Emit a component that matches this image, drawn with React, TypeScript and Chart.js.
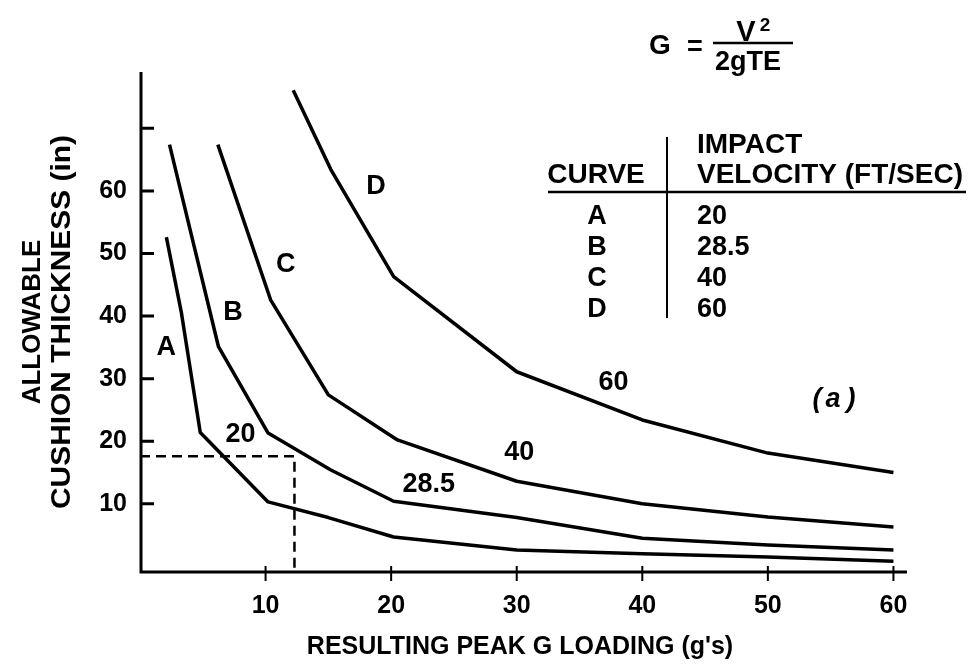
import React, { useEffect, useRef } from 'react';
import { Chart, registerables } from 'chart.js';

Chart.register(...registerables);

// ---- data ----
const CURVE_A_X = [2.1, 3.3, 4.8, 10.2, 15.0, 20.2, 30, 40, 50, 60];
const CURVE_A_Y = [52.6, 40.5, 21.4, 10.3, 7.8, 4.7, 2.6, 2.0, 1.5, 0.8];
const CURVE_B_X = [2.35, 6.25, 10.2, 15.2, 20.2, 30, 40, 50, 60];
const CURVE_B_Y = [67.4, 35.1, 21.3, 15.4, 10.4, 7.8, 4.5, 3.4, 2.6];
const CURVE_C_X = [6.2, 10.4, 15.0, 20.5, 30, 40, 50, 60];
const CURVE_C_Y = [67.4, 42.6, 27.4, 20.2, 13.6, 10.0, 7.9, 6.3];
const CURVE_D_X = [12.2, 15.2, 20.2, 30, 40, 50, 60];
const CURVE_D_Y = [76.1, 63.4, 46.3, 31.1, 23.4, 18.1, 15.0];
const EXAMPLE_X = [0, 12.3, 12.3];
const EXAMPLE_Y = [17.6, 17.6, -0.9];

const X_TICKS = [10, 20, 30, 40, 50, 60];
const Y_TICKS = [10, 20, 30, 40, 50, 60, 70];
const Y_TICK_LABELS = ['10', '20', '30', '40', '50', '60', ''];

const CURVE_NAMES = ['A', 'B', 'C', 'D'];
const VELOCITIES = ['20', '28.5', '40', '60'];
const NAME_LABEL_X = [2.1, 7.4, 11.6, 18.8];
const NAME_LABEL_Y = [35.3, 40.9, 48.6, 61.0];
const VEL_LABEL_X = [8.0, 23.0, 30.2, 37.7];
const VEL_LABEL_Y = [21.4, 13.5, 18.6, 29.8];

const X_TITLE = "RESULTING PEAK G LOADING (g's)";
const Y_TITLE = ['ALLOWABLE', 'CUSHION THICKNESS (in)'];

const FONT = '"Liberation Sans", Arial, sans-serif';

const pts = (xs: number[], ys: number[]) => xs.map((x, i) => ({ x, y: ys[i] }));

function txt(ctx: CanvasRenderingContext2D, s: string, cx: number, cy: number, size: number, align: CanvasTextAlign = 'center', style = 'bold') {
  ctx.font = `${style} ${size}px ${FONT}`;
  ctx.textAlign = align;
  ctx.textBaseline = 'alphabetic';
  ctx.fillText(s, cx, cy + size * 0.36);
}

function fitTxt(ctx: CanvasRenderingContext2D, s: string, cx: number, cy: number, size: number, width: number) {
  ctx.font = `bold ${size}px ${FONT}`;
  const w = ctx.measureText(s).width;
  ctx.save();
  ctx.translate(cx, cy);
  ctx.scale(width / w, 1);
  ctx.textAlign = 'center';
  ctx.textBaseline = 'alphabetic';
  ctx.fillText(s, 0, size * 0.36);
  ctx.restore();
}

const decorPlugin = {
  id: 'decor',
  afterDraw(chart: any) {
    const ctx: CanvasRenderingContext2D = chart.ctx;
    const xs = chart.scales.x;
    const ys = chart.scales.y;
    const area = chart.chartArea;
    ctx.save();
    ctx.strokeStyle = '#000';
    ctx.fillStyle = '#000';
    ctx.lineCap = 'butt';

    // axes
    ctx.lineWidth = 3;
    ctx.beginPath();
    ctx.moveTo(area.left + 1, area.top);
    ctx.lineTo(area.left + 1, area.bottom + 1.5);
    ctx.moveTo(area.left, area.bottom);
    ctx.lineTo(area.right + 1, area.bottom);
    ctx.stroke();

    // y tick marks (inward)
    ctx.beginPath();
    Y_TICKS.forEach((v) => {
      const py = ys.getPixelForValue(v);
      ctx.moveTo(area.left + 1, py);
      ctx.lineTo(area.left + 14, py);
    });
    ctx.stroke();

    // x tick marks (crossing)
    ctx.lineWidth = 2;
    ctx.beginPath();
    X_TICKS.forEach((v) => {
      const px = xs.getPixelForValue(v);
      ctx.moveTo(px, area.bottom - 6);
      ctx.lineTo(px, area.bottom + 9);
    });
    ctx.stroke();

    // curve labels
    CURVE_NAMES.forEach((n, i) => {
      txt(ctx, n, xs.getPixelForValue(NAME_LABEL_X[i]), ys.getPixelForValue(NAME_LABEL_Y[i]), 27);
    });
    VELOCITIES.forEach((n, i) => {
      txt(ctx, n, xs.getPixelForValue(VEL_LABEL_X[i]), ys.getPixelForValue(VEL_LABEL_Y[i]), 27);
    });

    // (a)
    txt(ctx, '(', 817, 397, 27, 'center', 'italic bold');
    txt(ctx, 'a', 833, 397, 27, 'center', 'italic bold');
    txt(ctx, ')', 851, 397, 27, 'center', 'italic bold');

    // axis titles
    txt(ctx, X_TITLE, 520, 645, 25);
    ctx.save();
    ctx.translate(31, 322);
    ctx.rotate(-Math.PI / 2);
    txt(ctx, Y_TITLE[0], 0, 0, 26);
    ctx.restore();
    ctx.save();
    ctx.translate(60, 322);
    ctx.rotate(-Math.PI / 2);
    fitTxt(ctx, Y_TITLE[1], 0, 0, 27, 374);
    ctx.restore();

    // formula
    txt(ctx, 'G', 660, 44, 28);
    txt(ctx, '=', 695, 45, 27);
    txt(ctx, 'V', 746, 31, 29);
    txt(ctx, '2', 765, 24, 19);
    ctx.lineWidth = 2.5;
    ctx.beginPath();
    ctx.moveTo(713, 43);
    ctx.lineTo(793, 43);
    ctx.stroke();
    txt(ctx, '2gTE', 748, 60, 27);

    // legend table
    txt(ctx, 'IMPACT', 697, 143, 28, 'left');
    txt(ctx, 'CURVE', 596, 173, 28, 'center');
    txt(ctx, 'VELOCITY (FT/SEC)', 697, 173, 28, 'left');
    ctx.lineWidth = 2.5;
    ctx.beginPath();
    ctx.moveTo(548, 192);
    ctx.lineTo(966, 192);
    ctx.stroke();
    ctx.lineWidth = 2;
    ctx.beginPath();
    ctx.moveTo(667, 137);
    ctx.lineTo(667, 318);
    ctx.stroke();
    const rowY = [214, 245, 276, 307];
    CURVE_NAMES.forEach((n, i) => {
      txt(ctx, n, 597, rowY[i], 27, 'center');
      txt(ctx, VELOCITIES[i], 697, rowY[i], 27, 'left');
    });

    ctx.restore();
  },
};

export default function App() {
  const ref = useRef<HTMLCanvasElement>(null);
  useEffect(() => {
    if (!ref.current) return;
    const line = (xs: number[], ys: number[], dash: number[] = [], w = 3.5) => ({
      type: 'line' as const,
      data: pts(xs, ys),
      borderColor: '#000',
      borderWidth: w,
      borderDash: dash,
      borderJoinStyle: 'round',
      pointRadius: 0,
      tension: 0,
      fill: false,
    });
    const chart = new Chart(ref.current, {
      type: 'line',
      data: {
        datasets: [
          line(CURVE_A_X, CURVE_A_Y),
          line(CURVE_B_X, CURVE_B_Y),
          line(CURVE_C_X, CURVE_C_Y),
          line(CURVE_D_X, CURVE_D_Y),
          line(EXAMPLE_X, EXAMPLE_Y, [10, 6], 2.5),
        ] as any,
      },
      options: {
        responsive: false,
        animation: false,
        devicePixelRatio: 1,
        layout: { padding: { top: 72, right: 68, left: 0, bottom: 0 } },
        plugins: { legend: { display: false }, tooltip: { enabled: false }, title: { display: false } },
        scales: {
          x: {
            type: 'linear',
            min: 0,
            max: 61,
            grid: { display: false, drawTicks: false },
            border: { display: false },
            afterBuildTicks: (s: any) => {
              s.ticks = X_TICKS.map((v) => ({ value: v }));
            },
            afterFit: (s: any) => {
              s.height = 99;
            },
            ticks: {
              color: '#000',
              font: { family: FONT, size: 25, weight: 'bold' },
              padding: 19,
              maxRotation: 0,
              autoSkip: false,
              callback: (v: any) => String(v),
            },
          },
          y: {
            type: 'linear',
            min: -0.9,
            max: 79,
            grid: { display: false, drawTicks: false },
            border: { display: false },
            afterBuildTicks: (s: any) => {
              s.ticks = Y_TICKS.map((v) => ({ value: v }));
            },
            afterFit: (s: any) => {
              s.width = 140;
            },
            ticks: {
              color: '#000',
              font: { family: FONT, size: 25, weight: 'bold' },
              padding: 13,
              autoSkip: false,
              callback: (_v: any, i: number) => Y_TICK_LABELS[i],
            },
          },
        },
      } as any,
      plugins: [decorPlugin],
    });
    return () => chart.destroy();
  }, []);
  return (
    <div style={{ position: 'fixed', left: 0, top: 0, width: 974, height: 671, background: '#fff' }}>
      <canvas ref={ref} width={974} height={671} style={{ display: 'block' }} />
    </div>
  );
}
